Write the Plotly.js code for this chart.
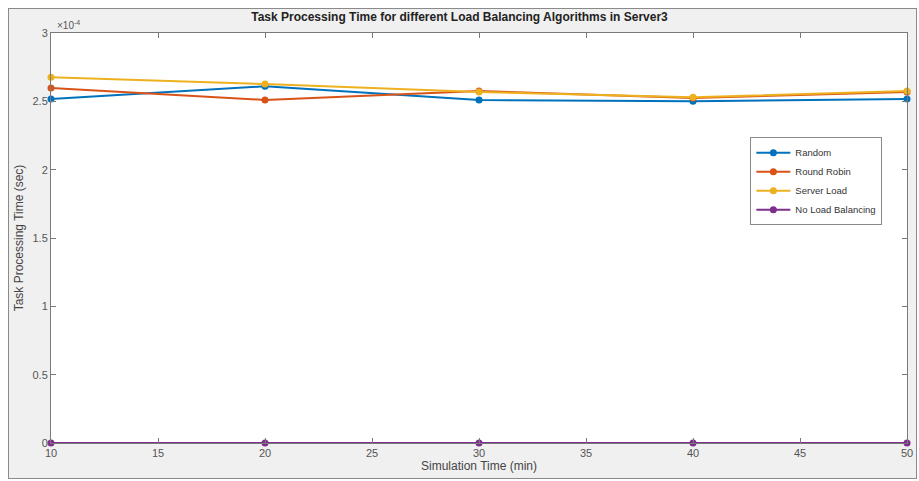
<!DOCTYPE html>
<html><head><meta charset="utf-8">
<script src="https://cdn.plot.ly/plotly-3.0.1.min.js"></script>
<style>
html,body{margin:0;padding:0;background:#fff;}
#frame{position:absolute;left:8px;top:8px;width:907px;height:469px;border:1px solid #8a8a8a;background:#f0f0f0;}
#chart{position:absolute;left:0;top:0;width:919px;height:481px;}
</style></head>
<body>
<div id="frame"></div>
<div id="chart"></div>
<script>
const simTime = [10, 20, 30, 40, 50];
const randomVals = [2.517e-4, 2.61e-4, 2.51e-4, 2.50e-4, 2.517e-4];
const roundRobinVals = [2.597e-4, 2.51e-4, 2.575e-4, 2.524e-4, 2.568e-4];
const serverLoadVals = [2.677e-4, 2.626e-4, 2.568e-4, 2.53e-4, 2.575e-4];
const noLBVals = [0, 0, 0, 0, 0];
const seriesNames = ['Random', 'Round Robin', 'Server Load', 'No Load Balancing'];
const yTickVals = [0, 0.5e-4, 1e-4, 1.5e-4, 2e-4, 2.5e-4, 3e-4];
const yTickText = ['0', '0.5', '1', '1.5', '2', '2.5', '3'];
const xTickVals = [10, 15, 20, 25, 30, 35, 40, 45, 50];

const colors = ['#0072BD', '#D95319', '#EDB120', '#7E2F8E'];
const allVals = [randomVals, roundRobinVals, serverLoadVals, noLBVals];
const traces = allVals.map((v, i) => ({
  x: simTime, y: v, name: seriesNames[i], type: 'scatter', mode: 'lines+markers',
  line: {color: colors[i], width: 2}, marker: {color: colors[i], size: 7, symbol: 'circle'},
  cliponaxis: false
}));

const axisCommon = {
  showgrid: false, zeroline: false, showline: true, linecolor: '#7a7a7a', linewidth: 1,
  mirror: 'ticks', ticks: 'inside', ticklen: 5, tickcolor: '#7a7a7a',
  tickfont: {family: 'Liberation Sans, Arial', size: 11, color: '#555'}
};

const layout = {
  width: 919, height: 481,
  paper_bgcolor: 'rgba(0,0,0,0)', plot_bgcolor: '#ffffff',
  margin: {l: 51, r: 12, t: 33, b: 38},
  title: {text: '<b>Task Processing Time for different Load Balancing Algorithms in Server3</b>',
    font: {family: 'Liberation Sans, Arial', size: 12, color: '#222'}, x: 0.5, xanchor: 'center', y: 0.965, yanchor: 'middle'},
  xaxis: Object.assign({}, axisCommon, {range: [10, 50], tickvals: xTickVals,
    title: {text: 'Simulation Time (min)', font: {family: 'Liberation Sans, Arial', size: 12, color: '#444'}, standoff: 2}}),
  yaxis: Object.assign({}, axisCommon, {range: [0, 3e-4], tickvals: yTickVals, ticktext: yTickText,
    title: {text: 'Task Processing Time (sec)', font: {family: 'Liberation Sans, Arial', size: 12, color: '#444'}, standoff: 6}}),
  legend: {x: 0.817, y: 0.746, xanchor: 'left', yanchor: 'top', bgcolor: '#fff', bordercolor: '#8a8a8a', borderwidth: 1,
    font: {family: 'Liberation Sans, Arial', size: 9.5, color: '#333'}, tracegroupgap: 0, itemwidth: 34},
  annotations: [{xref: 'paper', yref: 'paper', x: 0.005, y: 1.0, xanchor: 'left', yanchor: 'bottom', showarrow: false,
    text: '×10<sup>-4</sup>', font: {family: 'Liberation Sans, Arial', size: 10, color: '#555'}}],
  showlegend: true
};
Plotly.newPlot('chart', traces, layout, {displayModeBar: false});
</script>
</body></html>
